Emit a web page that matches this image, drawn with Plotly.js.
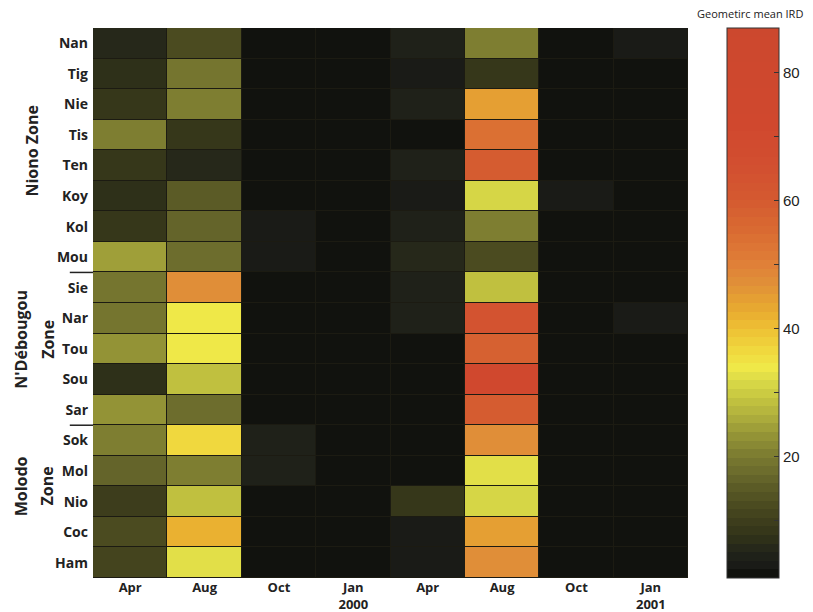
<!DOCTYPE html>
<html>
<head>
<meta charset="utf-8">
<script src="https://cdn.plot.ly/plotly-3.0.1.min.js"></script>
<style>html,body{margin:0;padding:0;background:#fff;}#chart{width:813px;height:612px;}</style>
</head>
<body>
<div id="chart"></div>
<script>
// ---- data ----
var sites = ["Nan","Tig","Nie","Tis","Ten","Koy","Kol","Mou","Sie","Nar","Tou","Sou","Sar","Sok","Mol","Nio","Coc","Ham"];
var monthLabels = ["Apr","Aug","Oct","Jan<br>2000","Apr","Aug","Oct","Jan<br>2001"];
var apr1999 = [6,7,9,20,8,7,9,24,19,19,23,7,23,21,16,10,12,11];
var aug1999 = [12,19,20,9,6,15,17,18,48,34,34,29,18,36,21,29,42,33];
var oct1999 = [1,1,1,1,1,1,3,3,1,1,1,1,1,4,4,1,1,1];
var jan2000 = [1,1,1,1,1,1,1,1,1,1,1,1,1,1,1,1,1,1];
var apr2000 = [4,3,5,1,5,3,5,6,5,5,1,1,1,1,1,8,3,3];
var aug2000 = [20,9,45,54,60,31,21,12,29,64,58,72,60,48,32,31,44,47];
var oct2000 = [1,1,1,1,1,3,1,1,1,1,1,1,1,1,1,1,1,1];
var jan2001 = [3,1,1,1,1,1,1,1,1,3,1,1,1,1,1,1,1,1];
var colorbarTickVals = [10,20,30,40,50,60,70,80];
var colorbarTickText = ["","20","","40","","60","","80"];

var columns = [apr1999,aug1999,oct1999,jan2000,apr2000,aug2000,oct2000,jan2001];
var z = sites.map(function(s,i){ return columns.map(function(c){ return c[i]; }); });
var xIdx = monthLabels.map(function(_,i){ return i; });

// ---- colour map (stepped, MATLAB-like) ----
var zmin = 1, zmax = 87;
var anchors = [
 [1,"#0c0d0a"],[3,"#1a1b17"],[5,"#22241a"],[7,"#2e3019"],[9,"#3a3a1b"],[12,"#48481f"],
 [15,"#5a5a26"],[18,"#6e6e2e"],[20,"#7a7a30"],[23,"#929236"],[26,"#acac3c"],[29,"#c4c440"],
 [32,"#dcdc48"],[34,"#f0e848"],[36,"#f0dc40"],[40,"#eec034"],[43,"#e8aa30"],[47,"#e09038"],
 [50,"#e08038"],[55,"#da6c32"],[60,"#d45a30"],[66,"#d24e30"],[72,"#d0482e"],[87,"#cc482e"]
];
function hex2rgb(h){return [parseInt(h.substr(1,2),16),parseInt(h.substr(3,2),16),parseInt(h.substr(5,2),16)];}
function colAt(v){
  for(var i=0;i<anchors.length-1;i++){
    var a=anchors[i],b=anchors[i+1];
    if(v<=b[0]){
      var t=(v-a[0])/(b[0]-a[0]); if(t<0)t=0;
      var ca=hex2rgb(a[1]),cb=hex2rgb(b[1]);
      return "rgb("+ca.map(function(x,k){return Math.round(x+(cb[k]-x)*t);}).join(",")+")";
    }
  }
  return anchors[anchors.length-1][1];
}
var nSteps = 64, cs = [];
for(var i=0;i<nSteps;i++){
  var c = colAt(zmin+(i+0.5)/nSteps*(zmax-zmin));
  cs.push([i/nSteps,c]); cs.push([(i+1)/nSteps,c]);
}

var trace = {
  type:"heatmap", x:xIdx, y:sites, z:z, zmin:zmin, zmax:zmax,
  colorscale:cs, xgap:1, ygap:1, hoverongaps:false,
  colorbar:{
    x:1.0655, xanchor:"left", y:0.5, yanchor:"middle", len:1, lenmode:"fraction",
    thickness:52, thicknessmode:"pixels", outlinewidth:1, outlinecolor:"#333",
    xpad:0, ypad:0,
    tickmode:"array", tickvals:colorbarTickVals, ticktext:colorbarTickText,
    ticks:"inside", ticklen:5, tickcolor:"#333",
    tickfont:{family:"Liberation Sans, Arial, sans-serif", size:15, color:"#222"}
  }
};

var tickFont = {family:"Open Sans, sans-serif", size:14, color:"#222", weight:700};
var xTickFont = {family:"Open Sans, sans-serif", size:13, color:"#222", weight:700};
var zoneFont = {family:"Open Sans, sans-serif", size:16, color:"#222", weight:700};

var layout = {
  width:813, height:612,
  margin:{l:93, r:125, t:28, b:34, pad:0, autoexpand:false},
  paper_bgcolor:"#ffffff", plot_bgcolor:"#1c1b12",
  xaxis:{tickmode:"array", tickvals:xIdx, ticktext:monthLabels, tickfont:xTickFont,
         showgrid:false, zeroline:false, ticks:"", showline:false, range:[-0.5,7.5], automargin:false},
  yaxis:{autorange:"reversed", tickfont:tickFont, showgrid:false, zeroline:false,
         ticks:"", ticklabelstandoff:4, automargin:false},
  shapes:[
    {type:"line", xref:"paper", yref:"y", x0:-0.039, x1:0, y0:7.5, y1:7.5, line:{color:"#222", width:1.5}},
    {type:"line", xref:"paper", yref:"y", x0:-0.039, x1:0, y0:12.5, y1:12.5, line:{color:"#222", width:1.5}}
  ],
  annotations:[
    {text:"Niono Zone", xref:"paper", yref:"y", x:-0.102, y:3.5, textangle:-90, showarrow:false, font:zoneFont, xanchor:"center", yanchor:"middle"},
    {text:"N'Débougou", xref:"paper", yref:"y", x:-0.121, y:9.7, textangle:-90, showarrow:false, font:zoneFont, xanchor:"center", yanchor:"middle"},
    {text:"Zone", xref:"paper", yref:"y", x:-0.077, y:9.7, textangle:-90, showarrow:false, font:zoneFont, xanchor:"center", yanchor:"middle"},
    {text:"Molodo", xref:"paper", yref:"y", x:-0.121, y:14.5, textangle:-90, showarrow:false, font:zoneFont, xanchor:"center", yanchor:"middle"},
    {text:"Zone", xref:"paper", yref:"y", x:-0.077, y:14.5, textangle:-90, showarrow:false, font:zoneFont, xanchor:"center", yanchor:"middle"},
    {text:"Geometirc mean IRD", xref:"paper", yref:"paper", x:1.105, y:1.027, showarrow:false,
     font:{family:"Open Sans, sans-serif", size:11, color:"#222"}, xanchor:"center", yanchor:"middle"}
  ]
};

Plotly.newPlot("chart",[trace],layout,{displayModeBar:false, staticPlot:true});
</script>
</body>
</html>
